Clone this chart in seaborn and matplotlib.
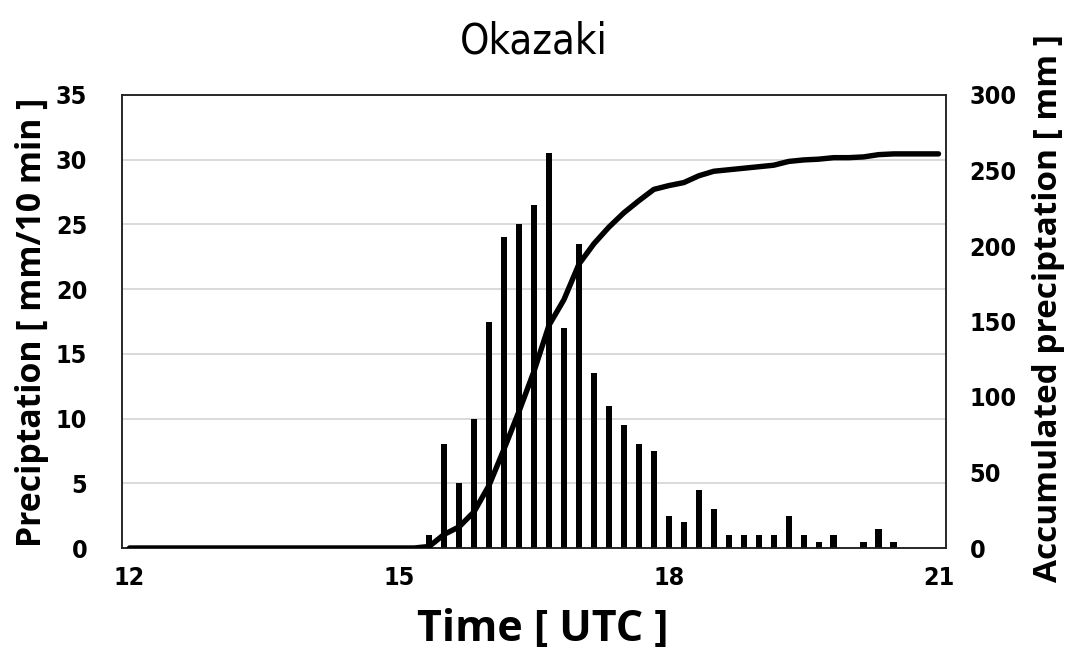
import numpy as np
import matplotlib
matplotlib.use("Agg")
import matplotlib.pyplot as plt
from matplotlib import font_manager as fm
import seaborn as sns

# 10-minute rainfall at Okazaki (mm per 10 min), one value every 10 min from 15:20 UTC
rain_start_hour = 15 + 20 / 60
rain_mm = [1, 8, 5, 10, 17.5, 24, 25, 26.5, 30.5, 17, 23.5, 13.5, 11, 9.5, 8, 7.5,
           2.5, 2, 4.5, 3, 1, 1, 1, 1, 2.5, 1, 0.5, 1, 0, 0.5, 1.5, 0.5]

# record span (UTC hours) and axis ticks
record_start, record_end = 12, 21
x_ticks = [12, 15, 18, 21]
x_ticklabels = ["12", "15", "18", "21"]
left_ticks = [0, 5, 10, 15, 20, 25, 30, 35]
right_ticks = [0, 50, 100, 150, 200, 250, 300]

title = "Okazaki"
x_label = "Time [ UTC ]"
left_label = "Preciptation [ mm/10 min ]"
right_label = "Accumulated preciptation [ mm ]"

# ---- derived series -------------------------------------------------------
step = 1 / 6
record_hours = record_start + step * np.arange(int(round((record_end - record_start) / step)) + 1)
bar_hours = rain_start_hour + step * np.arange(len(rain_mm))
rain_full = np.zeros(len(record_hours))
i0 = int(round((rain_start_hour - record_start) / step))
rain_full[i0:i0 + len(rain_mm)] = rain_mm
accumulated = np.cumsum(rain_full)

# ---- style ---------------------------------------------------------------
sns.set_theme(style="white")
names = {f.name for f in fm.fontManager.ttflist}
label_font = "Open Sans" if "Open Sans" in names else "DejaVu Sans"
plt.rcParams["font.family"] = ["DejaVu Sans"]
plt.rcParams["font.stretch"] = "condensed"

fig = plt.figure(figsize=(10.69, 6.64), dpi=100)
ax = fig.add_axes([122 / 1069, 1 - 548 / 664, 824 / 1069, 453 / 664])

sns.barplot(x=bar_hours, y=rain_mm, native_scale=True, width=0.42,
            color="black", saturation=1, linewidth=0, ax=ax, zorder=3)

ax2 = ax.twinx()
sns.lineplot(x=record_hours, y=accumulated, ax=ax2, color="black",
             linewidth=3.9, solid_capstyle="round", solid_joinstyle="round", zorder=4)

half = step / 2
ax.set_xlim(record_start - half, record_end + half)
ax.set_ylim(0, 35)
ax2.set_ylim(0, 300)

ax.set_xticks(x_ticks)
ax.set_xticklabels(x_ticklabels)
ax.set_yticks(left_ticks)
ax.set_yticklabels([str(v) for v in left_ticks])
ax2.set_yticks(right_ticks)
ax2.set_yticklabels([str(v) for v in right_ticks])

ax.yaxis.grid(True, color="#d9d9d9", linewidth=1.4, zorder=0)
ax.xaxis.grid(False)
ax2.grid(False)
ax.set_axisbelow(True)

tick_kw = dict(length=0, labelsize=18, labelcolor="black")
ax.tick_params(axis="x", pad=13, **tick_kw)
ax.tick_params(axis="y", pad=25, **tick_kw)
ax2.tick_params(axis="y", pad=17, **tick_kw)
for lab in ax.get_xticklabels() + ax.get_yticklabels() + ax2.get_yticklabels():
    lab.set_fontweight("semibold")

for a in (ax, ax2):
    for s in a.spines.values():
        s.set_visible(True)
        s.set_color("#222222")
        s.set_linewidth(1.1)

ax.set_title(title, fontsize=30, pad=30, color="black")

ax.set_xlabel(x_label, fontsize=31, fontweight="bold", family=label_font, color="black")
ax.set_ylabel(left_label, fontsize=24.3, fontweight="bold", family=label_font, color="black")
ax2.set_ylabel(right_label, fontsize=24.0, fontweight="bold", family=label_font, color="black")
ax.xaxis.label.set_va("center")
ax.yaxis.label.set_va("center")
ax2.yaxis.label.set_va("center")
ax.xaxis.set_label_coords(0.511, -0.181)
ax.yaxis.set_label_coords(-0.109, 0.499)
ax2.yaxis.set_label_coords(1.124, 0.53)

fig.savefig("out.png", dpi=100)
